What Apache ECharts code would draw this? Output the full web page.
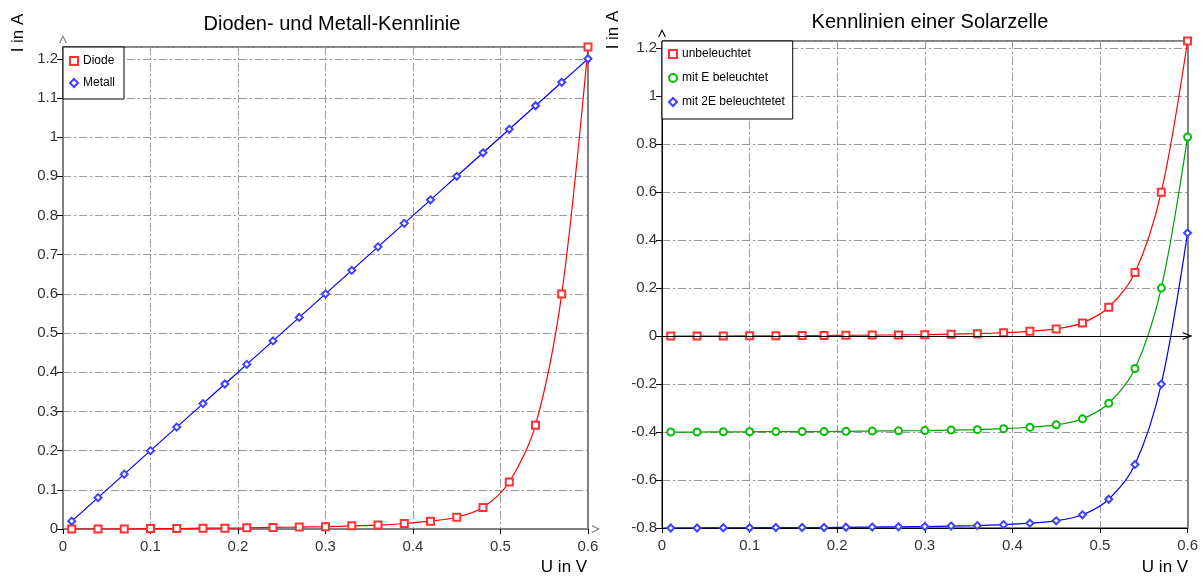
<!DOCTYPE html>
<html><head><meta charset="utf-8">
<script src="https://cdn.jsdelivr.net/npm/echarts@6/dist/echarts.min.js"></script>
<style>html,body{margin:0;padding:0;background:#fff}#c{width:1201px;height:577px}</style>
</head><body><div id="c"></div>
<script>
var U = [0.01,0.04,0.07,0.10,0.13,0.16,0.185,0.21,0.24,0.27,0.30,0.33,0.36,0.39,0.42,0.45,0.48,0.51,0.54,0.57,0.60];
var diode = [0,0,0,0.001,0.001,0.002,0.002,0.003,0.004,0.005,0.006,0.008,0.010,0.014,0.020,0.030,0.055,0.12,0.265,0.60,1.23];
var metall = [0.02,0.08,0.14,0.20,0.26,0.32,0.37,0.42,0.48,0.54,0.60,0.66,0.72,0.78,0.84,0.90,0.96,1.02,1.08,1.14,1.20];
var unbel = [0,0,0,0.001,0.001,0.002,0.002,0.003,0.004,0.005,0.006,0.008,0.010,0.014,0.020,0.030,0.055,0.12,0.265,0.60,1.23];
var mitE = [-0.40,-0.40,-0.399,-0.399,-0.398,-0.398,-0.398,-0.397,-0.396,-0.395,-0.394,-0.392,-0.390,-0.386,-0.38,-0.37,-0.345,-0.28,-0.135,0.20,0.83];
var mit2E = [-0.80,-0.80,-0.799,-0.799,-0.798,-0.798,-0.798,-0.797,-0.796,-0.795,-0.794,-0.792,-0.790,-0.786,-0.78,-0.77,-0.745,-0.68,-0.535,-0.20,0.43];
var titles = ['Dioden- und Metall-Kennlinie','Kennlinien einer Solarzelle'];
var names = ['Diode','Metall','unbeleuchtet','mit E beleuchtet','mit 2E beleuchtetet'];

function pairs(ys){return U.map(function(u,i){return [u,ys[i]];});}
function fmt(v){var r=Math.round(v*10)/10; return r===0?'0':String(r);}
var dashDot=[8,3,2,3];
var FONT='Liberation Sans, Arial, sans-serif';
var CHEV='path://M0,10 L5,0 L10,10 L8.4,10 L5,3.2 L1.6,10 Z';

function xAx(g, lineColor, lineW, arrow){
  return {type:'value',gridIndex:g,min:0,max:0.6,interval:0.1,
    axisLine:{onZero:false,lineStyle:{color:lineColor,width:lineW},symbol:arrow?['none',CHEV]:['none','none'],symbolSize:[8,10],symbolOffset:[0,8]},
    axisTick:{show:true,length:5,lineStyle:{color:'#000'}},
    axisLabel:{formatter:fmt,color:'#333',fontSize:15,fontFamily:FONT,margin:10},
    splitLine:{show:true,lineStyle:{color:'#999',type:dashDot,width:1}}};
}
function yAx(g,min,max,iv,lineColor,lineW){
  return {type:'value',gridIndex:g,min:min,max:max,interval:iv,
    axisLine:{onZero:false,lineStyle:{color:lineColor,width:lineW},symbol:['none',CHEV],symbolSize:[8,10],symbolOffset:[0,8]},
    axisTick:{show:true,length:6,lineStyle:{color:'#000'}},
    axisLabel:{formatter:fmt,color:'#333',fontSize:15,fontFamily:FONT,margin:5,showMaxLabel:false},
    splitLine:{show:true,lineStyle:{color:'#999',type:dashDot,width:1}}};
}
function edgeY(g,min,max,color,w){
  return {type:'value',gridIndex:g,position:'right',min:min,max:max,
    axisLine:{show:true,onZero:false,lineStyle:{color:color,width:w}},
    axisTick:{show:false},axisLabel:{show:false},splitLine:{show:false}};
}
function ser(name,data,color,symbol,xi,yi,symColor){
  return {name:name,type:'line',xAxisIndex:xi,yAxisIndex:yi,data:pairs(data),smooth:0.3,
    symbol:symbol,symbolSize:7,showSymbol:true,
    lineStyle:{color:color,width:1.2},
    itemStyle:{color:symColor,borderColor:symColor,borderWidth:1.2},
    emphasis:{disabled:true},z:3};
}

var opt = {
  animation:false,
  backgroundColor:'#fff',
  title:[
    {text:titles[0],left:327,top:9,textAlign:'center',textStyle:{fontSize:20,fontWeight:'normal',color:'#000',fontFamily:FONT}},
    {text:titles[1],left:925,top:7,textAlign:'center',textStyle:{fontSize:20,fontWeight:'normal',color:'#000',fontFamily:FONT}}
  ],
  grid:[
    {left:63,top:47,width:525,height:482,show:true,borderColor:'#000',borderWidth:1,backgroundColor:'transparent'},
    {left:662,top:41,width:526,height:487,show:true,borderColor:'#000',borderWidth:1,backgroundColor:'transparent'}
  ],
  xAxis:[ xAx(0,'#808080',2,true), xAx(1,'#000',1,false) ],
  yAxis:[
    yAx(0,0,1.23,0.1,'#808080',2),
    yAx(1,-0.8,1.23,0.2,'#000',1),
    edgeY(0,0,1.23,'#808080',2),
    edgeY(1,-0.8,1.23,'#808080',2)
  ],
  legend:[
    {orient:'vertical',left:63,top:47,padding:[8,9,10,6],itemGap:10,itemWidth:8,itemHeight:8,
     backgroundColor:'#fff',borderColor:'#000',borderWidth:1,borderRadius:0,
     textStyle:{fontSize:12,fontFamily:FONT,color:'#000'},
     data:[{name:names[0],icon:'emptyRect'},{name:names[1],icon:'emptyDiamond'}]},
    {orient:'vertical',left:662,top:41,padding:[7,8,11,6],itemGap:12,itemWidth:8,itemHeight:8,
     backgroundColor:'#fff',borderColor:'#000',borderWidth:1,borderRadius:0,
     textStyle:{fontSize:12,fontFamily:FONT,color:'#000'},
     data:[{name:names[2],icon:'emptyRect'},{name:names[3],icon:'emptyCircle'},{name:names[4],icon:'emptyDiamond'}]}
  ],
  series:[
    ser(names[0],diode,'#ff0000','emptyRect',0,0,'#ff3030'),
    ser(names[1],metall,'#0000ff','emptyDiamond',0,0,'#4040ff'),
    ser(names[2],unbel,'#ff0000','emptyRect',1,1,'#ff3030'),
    ser(names[3],mitE,'#00a000','emptyCircle',1,1,'#00c000'),
    ser(names[4],mit2E,'#0000ff','emptyDiamond',1,1,'#4040ff')
  ],
  graphic:[
    {type:'text',x:18,y:33,rotation:Math.PI/2,style:{text:'I in A',fontSize:17,fontFamily:FONT,fill:'#000',align:'center',verticalAlign:'middle'}},
    {type:'text',x:613,y:30,rotation:Math.PI/2,style:{text:'I in A',fontSize:17,fontFamily:FONT,fill:'#000',align:'center',verticalAlign:'middle'}},
    {type:'text',x:564,y:567,style:{text:'U in V',fontSize:17,fontFamily:FONT,fill:'#000',align:'center',verticalAlign:'middle'}},
    {type:'text',x:1165,y:567,style:{text:'U in V',fontSize:17,fontFamily:FONT,fill:'#000',align:'center',verticalAlign:'middle'}}
  ]
};
// zero line with arrow on the right chart
opt.series[2].markLine={silent:true,symbol:['none',CHEV],symbolSize:[8,10],label:{show:false},
  lineStyle:{color:'#000',width:1,type:'solid'},data:[{yAxis:0}]};
var ch = echarts.init(document.getElementById('c'));
ch.setOption(opt);
</script></body></html>
